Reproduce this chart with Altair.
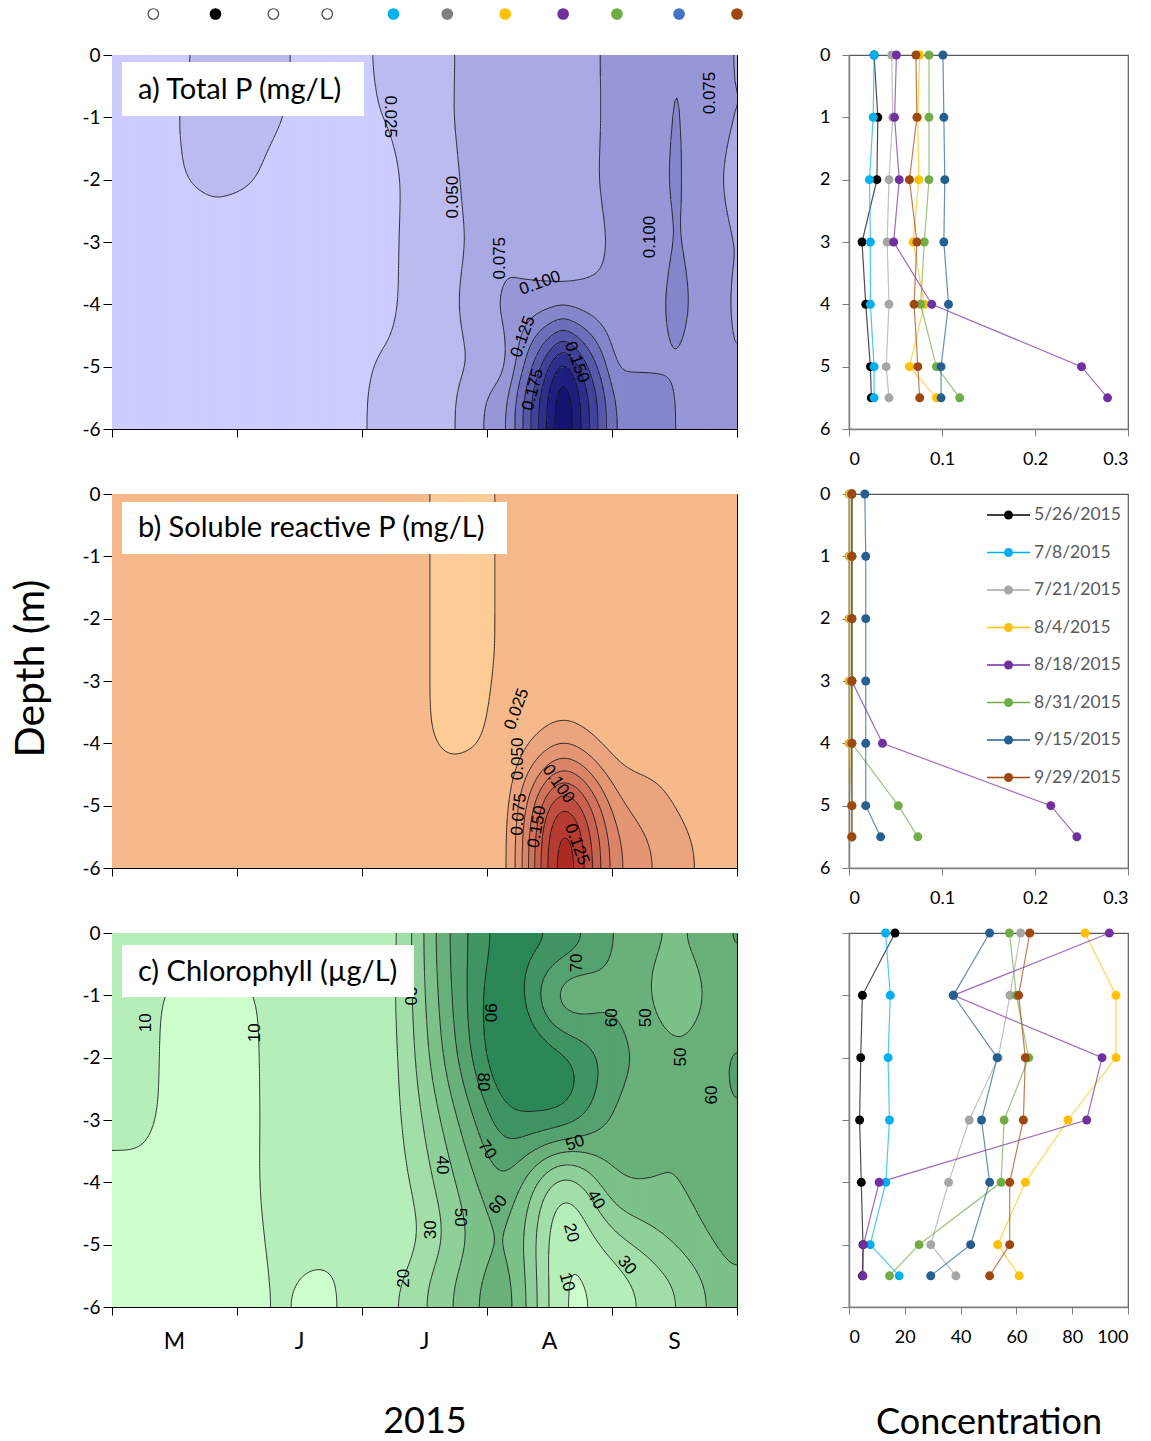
import altair as alt
import numpy as np
import pandas as pd

alt.data_transformers.disable_max_rows()

# ---------------------------------------------------------------- sampling
sample_dates = ["5/11/2015", "5/26/2015", "6/9/2015", "6/22/2015", "7/8/2015", "7/21/2015",
                "8/4/2015", "8/18/2015", "8/31/2015", "9/15/2015", "9/29/2015"]
profile_dates = ["5/26/2015", "7/8/2015", "7/21/2015", "8/4/2015",
                 "8/18/2015", "8/31/2015", "9/15/2015", "9/29/2015"]
profile_colors = ["#000000", "#00B0F0", "#A6A6A6", "#FFC000",
                  "#7030A0", "#70AD47", "#255E91", "#9E480E"]
marker_fill = ["white", "#000000", "white", "white", "#00B0F0", "#7F7F7F",
               "#FFC000", "#7030A0", "#70AD47", "#4472C4", "#9E480E"]
marker_stroke = ["#404040", "#000000", "#404040", "#404040", "#00B0F0", "#7F7F7F",
                 "#FFC000", "#7030A0", "#70AD47", "#4472C4", "#9E480E"]
depths = [0, 1, 2, 3, 4, 5, 5.5]

# one row per sampling date, one column per depth (m)
total_p = [
    [0.021, 0.021, 0.020, 0.019, 0.019, 0.020, 0.020],
    [0.027, 0.031, 0.030, 0.014, 0.018, 0.023, 0.024],
    [0.027, 0.026, 0.023, 0.021, 0.021, 0.021, 0.021],
    [0.021, 0.021, 0.020, 0.020, 0.020, 0.021, 0.022],
    [0.027, 0.026, 0.022, 0.023, 0.023, 0.027, 0.027],
    [0.046, 0.047, 0.043, 0.041, 0.043, 0.040, 0.043],
    [0.076, 0.074, 0.075, 0.069, 0.081, 0.065, 0.094],
    [0.051, 0.049, 0.054, 0.048, 0.089, 0.250, 0.278],
    [0.086, 0.086, 0.086, 0.081, 0.077, 0.094, 0.119],
    [0.101, 0.102, 0.103, 0.102, 0.107, 0.099, 0.099],
    [0.072, 0.073, 0.065, 0.073, 0.070, 0.074, 0.076],
]
srp = [
    [0.003, 0.003, 0.003, 0.003, 0.003, 0.003, 0.003],
    [0.003, 0.003, 0.003, 0.003, 0.003, 0.003, 0.003],
    [0.003, 0.003, 0.003, 0.003, 0.003, 0.003, 0.003],
    [0.003, 0.003, 0.003, 0.003, 0.003, 0.003, 0.003],
    [0.003, 0.003, 0.003, 0.003, 0.003, 0.003, 0.003],
    [0.000, 0.000, 0.000, 0.000, 0.000, 0.003, 0.003],
    [0.0012, 0.0012, 0.0012, 0.0012, 0.0012, 0.003, 0.003],
    [0.003, 0.003, 0.003, 0.003, 0.036, 0.217, 0.245],
    [0.003, 0.003, 0.003, 0.003, 0.003, 0.053, 0.074],
    [0.017, 0.018, 0.018, 0.018, 0.018, 0.018, 0.034],
    [0.003, 0.003, 0.003, 0.003, 0.003, 0.003, 0.003],
]
chl = [
    [11.0, 11.0, 11.0, 11.0, 9.0, 8.0, 8.0],
    [16.5, 4.8, 4.2, 3.8, 4.4, 5.0, 4.8],
    [12.0, 12.0, 12.0, 12.0, 12.0, 11.0, 11.0],
    [15.0, 15.0, 15.0, 15.0, 14.0, 12.0, 8.0],
    [13.1, 14.8, 14.0, 14.5, 13.2, 7.6, 18.0],
    [61.5, 57.7, 53.5, 43.1, 35.7, 29.3, 38.3],
    [84.6, 95.7, 95.7, 78.5, 63.2, 53.3, 61.0],
    [93.3, 37.4, 90.7, 85.2, 10.8, 5.2, 5.0],
    [57.5, 60.0, 64.4, 55.6, 54.5, 25.1, 14.5],
    [50.4, 37.4, 53.1, 47.5, 50.4, 43.6, 29.3],
    [64.8, 60.8, 63.2, 62.5, 57.6, 57.6, 50.4],
]

# contour levels and fills
tp_levels = [0.025, 0.05, 0.075, 0.1, 0.125, 0.15, 0.175, 0.2, 0.225, 0.25, 0.275]
tp_colors = ["#CCCCFF", "#BBBBF0", "#A9A9E3", "#9797D7", "#8585CB", "#6E6EBB",
             "#5858AB", "#42429B", "#2E2E8C", "#1E1E7E", "#141470", "#0C0C62"]
srp_levels = [0.001, 0.025, 0.05, 0.075, 0.1, 0.125, 0.15, 0.175, 0.2, 0.225]
srp_colors = ["#FDCB96", "#F5B98B", "#EBA57E", "#E39574", "#DA8468", "#D2745C",
              "#CA6250", "#C04E40", "#B63B30", "#AD2A22", "#A41A16"]
chl_levels = [10, 20, 30, 40, 50, 60, 70, 80, 90]
chl_colors = ["#CCFFCC", "#B6EEBA", "#A2DFA8", "#8FD09A", "#7CC08A", "#69B07B",
              "#55A26E", "#3F9462", "#2B8755", "#177A47"]

# contour labels: day after 1 May, depth (m), text, angle
tp_lab_day = [43.2, 67.2, 82.4, 93.7, 103.4, 99.3, 112.3, 101.7, 130.0, 144.5]
tp_lab_depth = [-0.64, -0.99, -2.28, -3.26, -3.66, -4.52, -4.93, -5.37, -2.92, -0.61]
tp_lab_text = ["0.025", "0.025", "0.050", "0.075", "0.100", "0.125", "0.150", "0.175", "0.100", "0.075"]
tp_lab_angle = [90, 90, 270, 270, 340, 290, 70, 285, 270, 270]

srp_lab_day = [97.8, 98.1, 98.3, 107.8, 102.7, 112.3]
srp_lab_depth = [-3.45, -4.25, -5.14, -4.65, -5.34, -5.62]
srp_lab_text = ["0.025", "0.050", "0.075", "0.100", "0.150", "0.125"]
srp_lab_angle = [290, 270, 275, 55, 280, 70]

chl_lab_day = [8.2, 34.5, 72.0, 91.3, 89.6, 90.6, 112.3, 120.8, 129.0, 137.5, 145.0,
               111.9, 79.7, 84.1, 93.3, 116.9, 110.9, 77.1, 124.4, 70.5, 109.9]
chl_lab_depth = [-1.44, -1.60, -1.01, -1.28, -2.39, -3.48, -0.48, -1.36, -1.36, -1.99, -2.60,
                 -3.37, -3.72, -4.56, -4.36, -4.28, -4.81, -4.76, -5.33, -5.54, -5.60]
chl_lab_text = ["10", "10", "20", "90", "80", "70", "70", "60", "50", "50", "60",
                "50", "40", "50", "60", "40", "20", "30", "30", "20", "10"]
chl_lab_angle = [270, 270, 90, 90, 90, 55, 270, 270, 270, 270, 270,
                 340, 90, 90, 310, 60, 75, 270, 50, 270, 75]

panel_titles = ["a) Total P (mg/L)", "b) Soluble reactive P (mg/L)", "c) Chlorophyll (\u00b5g/L)"]
month_labels = ["M", "J", "J", "A", "S", ""]

# ---------------------------------------------------------------- gridding
start = pd.Timestamp("2015-05-01")
sample_days = [(pd.to_datetime(d, format="%m/%d/%Y") - start).days for d in sample_dates]
END = sample_days[-1]
tick_days = [round(v, 2) for v in np.linspace(0, END, 6)]
tick_step = tick_days[1]

DT, DZ = 0.5, 0.025
T = np.arange(0, END + 1e-9, DT)
Z = np.arange(0, 6 + 1e-9, DZ)


def gauss_kernel(sigma, step):
    r = int(3 * sigma / step)
    k = np.exp(-0.5 * (np.arange(-r, r + 1) * step / sigma) ** 2)
    return k / k.sum(), r


def grid_field(profiles, sigma_z, sigma_t):
    per_date = np.array([np.interp(Z, depths, row) for row in profiles])
    F = np.array([np.interp(T, sample_days, per_date[:, j]) for j in range(len(Z))])
    # light separable Gaussian smoothing of the gridded section
    kz, rz = gauss_kernel(sigma_z, DZ)
    P = np.pad(F, ((rz, rz), (0, 0)), mode="reflect")
    F = np.apply_along_axis(lambda v: np.convolve(v, kz, mode="valid"), 0, P)
    kt, rt = gauss_kernel(sigma_t, DT)
    P = np.pad(F, ((0, 0), (rt, rt)), mode="reflect")
    F = np.apply_along_axis(lambda v: np.convolve(v, kt, mode="valid"), 1, P)
    return F


def fill_cells(F, levels):
    lev = np.digitize(F, levels)
    recs = []
    for i, t in enumerate(T):
        t0 = max(t - DT / 2, 0.0)
        t1 = min(t + DT / 2 + 0.2, END)
        col = lev[:, i]
        cuts = np.flatnonzero(np.diff(col)) + 1
        for s, e in zip(np.r_[0, cuts], np.r_[cuts, len(col)]):
            d0 = max(Z[s] - DZ / 2, 0.0)
            d1 = min(Z[e - 1] + DZ / 2, 6.0)
            recs.append((round(t0, 3), round(t1, 3), round(-d0, 4), round(-d1, 4), int(col[s])))
    return pd.DataFrame(recs, columns=["t0", "t1", "d0", "d1", "lev"])


def iso_segments(F, levels):
    a, b, c, d = F[:-1, :-1], F[:-1, 1:], F[1:, 1:], F[1:, :-1]
    X0 = np.broadcast_to(T[None, :-1], a.shape)
    X1 = np.broadcast_to(T[None, 1:], a.shape)
    Y0 = np.broadcast_to(Z[:-1, None], a.shape)
    Y1 = np.broadcast_to(Z[1:, None], a.shape)
    out = []
    for L in levels:
        A, B, C, D = a >= L, b >= L, c >= L, d >= L
        with np.errstate(divide="ignore", invalid="ignore"):
            ex = np.stack([X0 + (L - a) / (b - a) * (X1 - X0), X1,
                           X0 + (L - d) / (c - d) * (X1 - X0), X0])
            ey = np.stack([Y0, Y0 + (L - b) / (c - b) * (Y1 - Y0), Y1,
                           Y0 + (L - a) / (d - a) * (Y1 - Y0)])
        hit = np.stack([A != B, B != C, D != C, A != D])
        n = hit.sum(0)
        jj, ii = np.nonzero(n == 2)
        order = np.argsort(~hit[:, jj, ii], axis=0, kind="stable")
        e1, e2 = order[0], order[1]
        out.append(np.column_stack([ex[e1, jj, ii], ey[e1, jj, ii], ex[e2, jj, ii], ey[e2, jj, ii]]))
        jj, ii = np.nonzero(n == 4)
        for j, i in zip(jj, ii):
            centre = (a[j, i] + b[j, i] + c[j, i] + d[j, i]) / 4 >= L
            pairs = ((0, 1), (2, 3)) if centre == A[j, i] else ((0, 3), (1, 2))
            for p, q in pairs:
                out.append(np.array([[ex[p, j, i], ey[p, j, i], ex[q, j, i], ey[q, j, i]]]))
    s = np.vstack(out)
    return pd.DataFrame({"t0": s[:, 0].round(3), "d0": (-s[:, 1]).round(4),
                         "t1": s[:, 2].round(3), "d1": (-s[:, 3]).round(4)})


# ---------------------------------------------------------------- styling
FONT = "Lato"
X_SCALE = alt.Scale(domain=[0, END], nice=False, zero=False)
Y_SCALE = alt.Scale(domain=[-6, 0], nice=False, zero=False)
month_expr = "%s[round(datum.value / %s)]" % (str(month_labels), tick_step)


def contour_x_axis(show_labels, title):
    return alt.Axis(values=tick_days, labels=show_labels, labelExpr=month_expr, labelOffset=62,
                    labelFlush=False, labelOverlap=False, labelFont=FONT, labelFontSize=23,
                    labelColor="black", labelPadding=15, tickSize=8, tickColor="black",
                    domainColor="black", grid=False, title=title, titleFont=FONT,
                    titleFontSize=36, titleFontWeight="normal", titleColor="black", titlePadding=51)


def contour_y_axis(title):
    return alt.Axis(values=list(range(-6, 1)), labelExpr="'' + datum.value", labelFont=FONT,
                    labelFontSize=19, labelColor="black", labelPadding=3, tickSize=9,
                    tickColor="black", domainColor="black", grid=False, title=title,
                    titleFont=FONT, titleFontSize=41, titleFontWeight="normal",
                    titleColor="black", titlePadding=29, titleY=174)


def contour_panel(profiles, smoothing, levels, colors, title, box, lab, show_months, x_title,
                  y_title, markers=False):
    F = grid_field(profiles, *smoothing)
    xa = contour_x_axis(show_months, x_title)
    ya = contour_y_axis(y_title)
    X = alt.X("t0:Q", scale=X_SCALE, axis=xa)
    Y = alt.Y("d0:Q", scale=Y_SCALE, axis=ya)
    cells = alt.Chart(fill_cells(F, levels)).mark_rect().encode(
        x=X, x2="t1:Q", y=Y, y2="d1:Q",
        color=alt.Color("lev:O", scale=alt.Scale(domain=list(range(len(colors))), range=colors),
                        legend=None))
    lines = alt.Chart(iso_segments(F, levels)).mark_rule(color="#111111", strokeWidth=0.85).encode(
        x=X, x2="t1:Q", y=Y, y2="d1:Q")
    lab_df = pd.DataFrame({"t0": lab[0], "d0": lab[1], "text": lab[2], "angle": lab[3]})
    labels = alt.Chart(lab_df).mark_text(font="Liberation Sans", fontSize=17, color="black").encode(
        x=X, y=Y, text="text:N", angle=alt.Angle("angle:Q", scale=None))
    tdf = pd.DataFrame({"title": [title]})
    bx0, bx1, by0, by1, ty = box
    back = alt.Chart(tdf).mark_rect(color="white").encode(
        x=alt.value(bx0), x2=alt.value(bx1), y=alt.value(by0), y2=alt.value(by1))
    text = alt.Chart(tdf).mark_text(align="left", baseline="middle", font=FONT, fontSize=29,
                                    color="black").encode(
        x=alt.value(bx0 + 16), y=alt.value(ty), text="title:N")
    layers = [cells, lines, labels, back, text]
    if markers:
        mdf = pd.DataFrame({"date": sample_dates, "t0": sample_days})
        layers.append(alt.Chart(mdf).mark_point(filled=True, size=110, strokeWidth=1.2, opacity=1).encode(
            x=X, y=alt.value(-41),
            fill=alt.Fill("date:N", scale=alt.Scale(domain=sample_dates, range=marker_fill), legend=None),
            stroke=alt.Stroke("date:N", scale=alt.Scale(domain=sample_dates, range=marker_stroke),
                              legend=None)))
    return alt.layer(*layers).properties(
        width=625, height=374, view=alt.ViewBackground(stroke="black", strokeWidth=1))


def profile_table(values):
    rows = []
    for name, vals in zip(sample_dates, values):
        if name in profile_dates:
            for dep, v in zip(depths, vals):
                rows.append({"date": name, "depth": dep, "val": v})
    return pd.DataFrame(rows)


def profile_panel(values, xmax, xticks, show_y_labels, x_title, legend=False):
    df = profile_table(values)
    xa = alt.Axis(values=xticks, labelExpr="'' + datum.value", labelFont=FONT, labelFontSize=18,
                  labelColor="black", labelPadding=14, tickSize=7, tickColor="#7F7F7F",
                  domainColor="#7F7F7F", domainWidth=1.5, grid=False, title=x_title,
                  titleFont=FONT, titleFontSize=36, titleFontWeight="normal",
                  titleColor="black", titlePadding=59)
    ya = alt.Axis(values=list(range(7)), labels=show_y_labels, labelExpr="'' + datum.value",
                  labelFont=FONT, labelFontSize=18, labelColor="black", labelPadding=12,
                  tickSize=7, tickColor="#7F7F7F", domainColor="#7F7F7F", domainWidth=1.5,
                  grid=False, title=None)
    xs = alt.Scale(domain=[0, xmax], nice=False, zero=False)
    ys = alt.Scale(domain=[0, 6], reverse=True, nice=False, zero=False)
    color = alt.Color("date:N", scale=alt.Scale(domain=profile_dates, range=profile_colors), legend=None)
    line = alt.Chart(df).mark_line(strokeWidth=1.2, opacity=0.7).encode(
        x=alt.X("val:Q", scale=xs, axis=xa), y=alt.Y("depth:Q", scale=ys, axis=ya),
        color=color, order="depth:Q")
    pts = alt.Chart(df).mark_circle(size=80, opacity=1).encode(
        x=alt.X("val:Q", scale=xs, axis=xa),
        y=alt.Y("depth:Q", scale=ys, axis=None if legend else ya), color=color)
    layers = [line, pts]
    if legend:
        ldf = pd.DataFrame({"date": profile_dates})
        ly = alt.Y("date:N", axis=None,
                   scale=alt.Scale(type="point", domain=profile_dates, range=[21, 283.5], padding=0))
        layers += [
            alt.Chart(ldf).mark_rule(strokeWidth=1.3).encode(
                x=alt.value(138), x2=alt.value(181), y=ly, color=color),
            alt.Chart(ldf).mark_circle(size=80, opacity=1).encode(
                x=alt.value(159.5), y=ly, color=color),
            alt.Chart(ldf).mark_text(align="left", baseline="middle", font=FONT, fontSize=17.5,
                                     color="#595959").encode(
                x=alt.value(185), y=ly, text="date:N"),
        ]
    chart = alt.layer(*layers)
    if legend:
        chart = chart.resolve_scale(y="independent")
    return chart.properties(width=279, height=374,
                            view=alt.ViewBackground(stroke="#595959", strokeWidth=1.2))


ca = contour_panel(total_p, (0.25, 1.5), tp_levels, tp_colors, panel_titles[0], (10, 252, 7, 61, 35),
                   (tp_lab_day, tp_lab_depth, tp_lab_text, tp_lab_angle), False, None, None, markers=True)
cb = contour_panel(srp, (0.4, 3.0), srp_levels, srp_colors, panel_titles[1], (10, 395, 8, 60, 34),
                   (srp_lab_day, srp_lab_depth, srp_lab_text, srp_lab_angle), False, None, "Depth (m)")
cc = contour_panel(chl, (0.4, 3.5), chl_levels, chl_colors, panel_titles[2], (10, 302, 12, 64, 39),
                   (chl_lab_day, chl_lab_depth, chl_lab_text, chl_lab_angle), True, "2015", None)

pa = profile_panel(total_p, 0.3, [0, 0.1, 0.2, 0.3], True, None)
pb = profile_panel(srp, 0.3, [0, 0.1, 0.2, 0.3], True, None, legend=True)
pc = profile_panel(chl, 100, [0, 20, 40, 60, 80, 100], False, "Concentration")

chart = alt.concat(ca, pa, cb, pb, cc, pc, columns=2, bounds="flush",
                   spacing={"row": 65, "column": 112}).resolve_scale(
    x="independent", y="independent", color="independent", fill="independent", stroke="independent"
).properties(
    padding={"left": 10, "top": 5, "right": 5, "bottom": 4}, background="white"
)

chart.save("out.html", embed_options={"renderer": "svg", "actions": False})
